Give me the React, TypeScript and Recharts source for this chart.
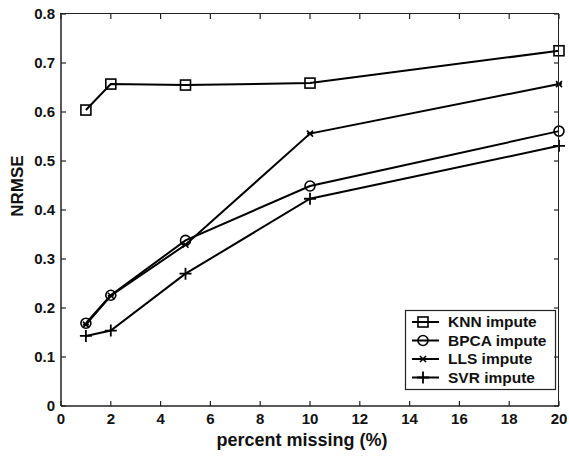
import React from 'react';
import { LineChart, Line, XAxis, YAxis, Customized } from 'recharts';

const percentMissing = [1, 2, 5, 10, 20];
const knnValues = [0.604, 0.657, 0.655, 0.659, 0.725];
const bpcaValues = [0.169, 0.226, 0.338, 0.449, 0.561];
const llsValues = [0.166, 0.225, 0.329, 0.556, 0.657];
const svrValues = [0.143, 0.154, 0.270, 0.423, 0.531];
const xTicks = [0, 2, 4, 6, 8, 10, 12, 14, 16, 18, 20];
const yTicks = [0, 0.1, 0.2, 0.3, 0.4, 0.5, 0.6, 0.7, 0.8];
const seriesNames = ['KNN impute', 'BPCA impute', 'LLS impute', 'SVR impute'];

const X_MAX = 20;
const Y_MAX = 0.8;

const data = percentMissing.map((p, i) => ({
  p,
  knn: knnValues[i],
  bpca: bpcaValues[i],
  lls: llsValues[i],
  svr: svrValues[i],
}));

const FONT = '"Liberation Sans", Arial, sans-serif';

const CHART_W = 569;
const CHART_H = 457;
const MARGIN = { top: 14, right: 10, bottom: 0, left: 0 };
const Y_AXIS_W = 61;
const X_AXIS_H = 51;
const PL = MARGIN.left + Y_AXIS_W;
const PT = MARGIN.top;
const PR = CHART_W - MARGIN.right;
const PB = CHART_H - MARGIN.bottom - X_AXIS_H;

type Kind = 'square' | 'circle' | 'star' | 'plus';

const Marker = ({ kind, cx, cy }: { kind: Kind; cx: number; cy: number }) => {
  if (kind === 'square')
    return <rect x={cx - 5} y={cy - 5} width={10} height={10} fill="none" stroke="#000" strokeWidth={1.6} />;
  if (kind === 'circle')
    return <circle cx={cx} cy={cy} r={5} fill="none" stroke="#000" strokeWidth={1.6} />;
  if (kind === 'star')
    return (
      <path
        d={`M${cx - 3},${cy - 3}L${cx + 3},${cy + 3}M${cx - 3},${cy + 3}L${cx + 3},${cy - 3}M${cx - 3},${cy}L${cx + 3},${cy}`}
        stroke="#000"
        strokeWidth={1.6}
        fill="none"
      />
    );
  return (
    <path
      d={`M${cx - 6},${cy}L${cx + 6},${cy}M${cx},${cy - 6}L${cx},${cy + 6}`}
      stroke="#000"
      strokeWidth={1.8}
      fill="none"
    />
  );
};

const makeDot = (kind: Kind) => (props: any) => (
  <Marker key={`${kind}-${props.index}`} kind={kind} cx={props.cx} cy={props.cy} />
);

const BottomTick = (props: any) => {
  const { x, y, payload } = props;
  return (
    <g>
      <path d={`M${x},${y}L${x},${y - 5}`} stroke="#222" strokeWidth={1.2} />
      <path d={`M${x},${PT}L${x},${PT + 5}`} stroke="#222" strokeWidth={1.2} />
      <text x={x} y={y + 18} textAnchor="middle" fontFamily={FONT} fontWeight="bold" fontSize={15} fill="#111">
        {payload.value}
      </text>
    </g>
  );
};

const LeftTick = (props: any) => {
  const { x, y, payload } = props;
  const v = payload.value;
  const label = v === 0 ? '0' : v.toFixed(1);
  return (
    <g>
      <path d={`M${x},${y}L${x + 5},${y}`} stroke="#222" strokeWidth={1.2} />
      <path d={`M${PR},${y}L${PR - 5},${y}`} stroke="#222" strokeWidth={1.2} />
      <text x={x - 6} y={y + 5} textAnchor="end" fontFamily={FONT} fontWeight="bold" fontSize={15} fill="#111">
        {label}
      </text>
    </g>
  );
};

const kinds: Kind[] = ['square', 'circle', 'star', 'plus'];

const Decorations = () => (
  <g>
    <g transform="translate(405,310)">
      <rect x={0.5} y={0.5} width={150} height={79} fill="#fff" stroke="#222" strokeWidth={1.2} />
      {seriesNames.map((name, i) => {
        const cy = 12 + i * 18.5;
        return (
          <g key={name}>
            <path d={`M7,${cy}L34,${cy}`} stroke="#000" strokeWidth={2} />
            <Marker kind={kinds[i]} cx={18} cy={cy} />
            <text x={43} y={cy + 5} fontFamily={FONT} fontWeight="bold" fontSize={15.5} fill="#111">
              {name}
            </text>
          </g>
        );
      })}
    </g>
    <text x={302} y={446} textAnchor="middle" fontFamily={FONT} fontWeight="bold" fontSize={18} fill="#111">
      percent missing (%)
    </text>
    <text
      x={0}
      y={0}
      transform="translate(23,186) rotate(-90)"
      textAnchor="middle"
      fontFamily={FONT}
      fontWeight="bold"
      fontSize={17}
      fill="#111"
    >
      NRMSE
    </text>
  </g>
);

export default function App() {
  return (
    <div style={{ position: 'absolute', left: 0, top: 0, width: CHART_W, height: CHART_H, background: '#fff' }}>
      <LineChart width={CHART_W} height={CHART_H} data={data} margin={MARGIN}>
        <XAxis
          dataKey="p"
          type="number"
          domain={[0, X_MAX]}
          ticks={xTicks}
          height={X_AXIS_H}
          tickSize={0}
          tickMargin={0}
          tick={<BottomTick />}
          axisLine={{ stroke: '#222', strokeWidth: 1.5 }}
          tickLine={false}
          interval={0}
        />
        <YAxis
          type="number"
          domain={[0, Y_MAX]}
          ticks={yTicks}
          width={Y_AXIS_W}
          tickSize={0}
          tickMargin={0}
          tick={<LeftTick />}
          axisLine={{ stroke: '#222', strokeWidth: 1.5 }}
          tickLine={false}
          interval={0}
        />
        <Line dataKey="knn" name={seriesNames[0]} stroke="#000" strokeWidth={2} dot={makeDot('square')} isAnimationActive={false} />
        <Line dataKey="bpca" name={seriesNames[1]} stroke="#000" strokeWidth={2} dot={makeDot('circle')} isAnimationActive={false} />
        <Line dataKey="lls" name={seriesNames[2]} stroke="#000" strokeWidth={2} dot={makeDot('star')} isAnimationActive={false} />
        <Line dataKey="svr" name={seriesNames[3]} stroke="#000" strokeWidth={2} dot={makeDot('plus')} isAnimationActive={false} />
        <Customized component={Decorations} />
      </LineChart>
      <div
        style={{
          position: 'absolute',
          left: PL - 0.75,
          top: PT - 0.75,
          width: PR - PL,
          height: PB - PT,
          borderTop: '1.5px solid #222',
          borderRight: '1.5px solid #222',
          pointerEvents: 'none',
        }}
      />
    </div>
  );
}
